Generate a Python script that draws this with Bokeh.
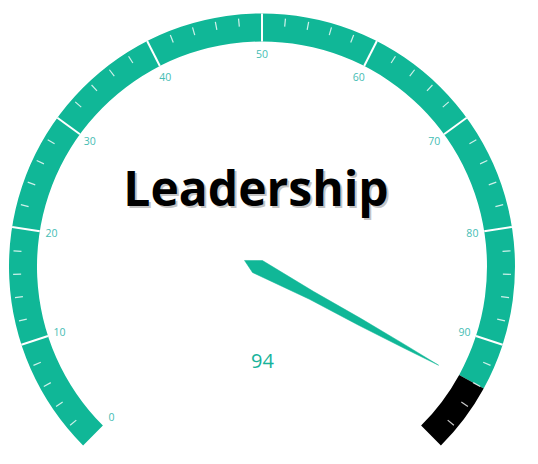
import math
from bokeh.plotting import figure
from bokeh.models import Range1d
from bokeh.core.properties import value
from bokeh.embed import file_html
from bokeh.resources import INLINE

# ---- data ----
title = "Leadership"
gauge_value = 94
gauge_min = 0
gauge_max = 100
major_ticks = [0, 10, 20, 30, 40, 50, 60, 70, 80, 90, 100]
major_labels = ["0", "10", "20", "30", "40", "50", "60", "70", "80", "90", "100"]
minor_step = 2

# ---- layout / style ----
W, H = 538, 464
CX, CY = 261.5, 464 - 266
R_OUT, R_IN = 253, 225
R_LABEL = 213
TEAL = "#10B797"
LABEL_COL = "#45BDB4"

def ang(v):
    # 270 degree sweep, 0 at bottom-left, max at bottom-right
    frac = (v - gauge_min) / (gauge_max - gauge_min)
    return math.radians(225 - 270 * frac)

p = figure(width=W, height=H, x_range=Range1d(0, W), y_range=Range1d(0, H),
           output_backend="svg", toolbar_location=None, min_border=0)
p.axis.visible = False
p.grid.visible = False
p.outline_line_color = None
p.background_fill_color = "white"
p.border_fill_color = "white"

# band: teal up to value, black after
p.annular_wedge(x=CX, y=CY, inner_radius=R_IN, outer_radius=R_OUT,
                start_angle=ang(gauge_value), end_angle=ang(gauge_min),
                direction="anticlock", fill_color=TEAL, line_color=None)
p.annular_wedge(x=CX, y=CY, inner_radius=R_IN, outer_radius=R_OUT,
                start_angle=ang(gauge_max), end_angle=ang(gauge_value),
                direction="anticlock", fill_color="black", line_color=None)

# major ticks
mx0, my0, mx1, my1 = [], [], [], []
for t in major_ticks:
    if t in (gauge_min, gauge_max):
        continue
    a = ang(t)
    mx0.append(CX + R_IN * math.cos(a)); my0.append(CY + R_IN * math.sin(a))
    mx1.append(CX + R_OUT * math.cos(a)); my1.append(CY + R_OUT * math.sin(a))
p.segment(x0=mx0, y0=my0, x1=mx1, y1=my1, line_color="white", line_width=2)

# minor ticks
nx0, ny0, nx1, ny1 = [], [], [], []
v = gauge_min
while v <= gauge_max:
    if v % 10 != 0:
        a = ang(v)
        nx0.append(CX + 241 * math.cos(a)); ny0.append(CY + 241 * math.sin(a))
        nx1.append(CX + 249 * math.cos(a)); ny1.append(CY + 249 * math.sin(a))
    v += minor_step
p.segment(x0=nx0, y0=ny0, x1=nx1, y1=ny1, line_color="white", line_width=1.2, line_alpha=0.8)

# tick labels
lx, ly, lt = [], [], []
for t, lab in zip(major_ticks, major_labels):
    if t == gauge_max:
        continue
    a = ang(t)
    lx.append(CX + R_LABEL * math.cos(a)); ly.append(CY + R_LABEL * math.sin(a))
    lt.append(lab)
p.text(x=lx, y=ly, text=lt, text_align="center", text_baseline="middle",
       text_font=value("Open Sans"), text_font_size="10.5px", text_color=LABEL_COL)

# needle
a = ang(gauge_value)
dx, dy = math.cos(a), math.sin(a)
nxv, nyv = -math.sin(a), math.cos(a)
profile = [(0.2, 6.9), (60, 4.4), (115, 3.5), (165, 1.8), (205, 0),
           (165, -1.8), (115, -3.5), (60, -4.4), (-2.8, -8.4), (-15.6, -1.7)]
px = [CX - 3 + u * dx + w * nxv for u, w in profile]
py = [CY + u * dy + w * nyv for u, w in profile]
p.patch(x=px, y=py, fill_color=TEAL, line_color=TEAL, line_width=0.5)

# title with shadow
TY = 464 - 187
p.text(x=[257.5], y=[TY - 2], text=[title], text_align="center", text_baseline="alphabetic",
       text_font=value("Open Sans"), text_font_style="bold", text_font_size="48px",
       text_color="#b4b4b4", text_alpha=0.8)
p.text(x=[255.5], y=[TY], text=[title], text_align="center", text_baseline="alphabetic",
       text_font=value("Open Sans"), text_font_style="bold", text_font_size="48px",
       text_color="black")

# value
p.text(x=[262], y=[464 - 360], text=[str(gauge_value)], text_align="center", text_baseline="middle",
       text_font=value("Open Sans"), text_font_size="20px", text_color="#17B39B")

open("out.html", "w").write(file_html(p, INLINE))
